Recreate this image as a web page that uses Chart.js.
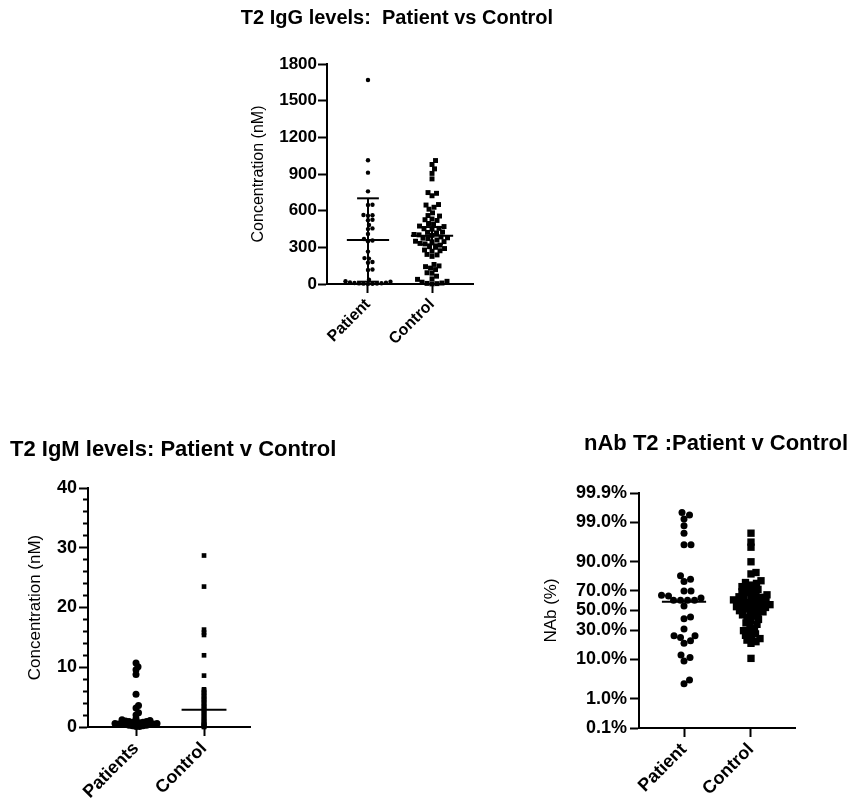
<!DOCTYPE html>
<html lang="en">
<head>
<meta charset="UTF-8">
<title>T2 antibody levels: Patient vs Control</title>
<script src="https://cdn.jsdelivr.net/npm/chart.js"></script>
<style>
  body { margin: 0; background: #fff; }
  #wrap { position: relative; width: 848px; height: 801px; }
  canvas { position: absolute; }
</style>
</head>
<body>
<div id="wrap">
  <canvas id="iggChart" width="600" height="370" style="left:0;top:0"></canvas>
  <canvas id="igmChart" width="440" height="381" style="left:0;top:420px"></canvas>
  <canvas id="nabChart" width="408" height="381" style="left:440px;top:420px"></canvas>
</div>
<script>
// T2 IgG (nM)
const iggGroups = ['Patient', 'Control'];
const iggPatient = [1669, 1012, 911, 758, 649, 646, 565, 562, 558, 526, 522, 483, 455, 449, 409, 368, 356, 350,
  265, 212, 208, 180, 174, 119, 114, 35, 22, 18, 12, 10, 8, 6, 5, 4, 3, 2, 1];
const iggControl = [1010, 978, 942, 905, 860, 748, 742, 722, 650, 646, 628, 612, 582, 560, 556, 532, 526, 520,
  495, 488, 474, 470, 455, 452, 448, 425, 422, 418, 405, 402, 398, 385, 378, 375, 372, 360, 350, 347, 345, 332,
  328, 318, 305, 300, 290, 278, 272, 268, 242, 238, 226, 160, 148, 142, 130, 118, 92, 88, 64, 42, 38, 22, 15, 8, 5, 3, 1];
const iggMean = [360, 395];
const iggSd = [341, 71];

// T2 IgM (nM)
const igmGroups = ['Patients', 'Control'];
const igmPatient = [10.7, 10.1, 9.6, 8.8, 5.5, 3.6, 3.2, 2.4, 2.0, 1.4, 1.2, 1.1, 1.0, 0.9, 0.9, 0.8, 0.8, 0.7,
  0.7, 0.6, 0.6, 0.5, 0.5, 0.5, 0.4, 0.4, 0.3, 0.3, 0.2, 0.2, 0.1, 0.1];
const igmControl = [28.7, 23.5, 16.3, 15.8, 15.4, 12.0, 8.6, 6.3, 6.1, 5.8, 5.6, 5.3, 5.1, 4.8, 4.6, 4.4, 4.1, 3.9,
  3.6, 3.4, 3.2, 2.9, 2.7, 2.5, 2.2, 2.0, 1.8, 1.5, 1.3, 1.1, 0.9, 0.7, 0.5, 0.4, 0.3, 0.2, 0.1, 0.0];
const igmControlMean = 2.9;

// nAb T2 (%)
const nabGroups = ['Patient', 'Control'];
const nabPatient = [99.5, 99.4, 99.2, 98.7, 97.9, 95.8, 95.8, 81.9, 79.5, 77.7, 69.5, 69.5, 65.5, 64.8, 63.0,
  60.5, 60.5, 60.5, 60.5, 54.6, 43.3, 41.3, 31.3, 25.4, 25.4, 23.9, 21.3, 19.5, 12.1, 10.8, 9.2, 3.4, 2.7];
const nabControl = [97.9, 96.4, 95.2, 90.0, 84.1, 83.2, 78.3, 76.9, 76.2, 74.8, 73.5, 72.9, 71.1, 70.4, 68.8,
  68.1, 66.7, 66.0, 65.2, 64.1, 63.6, 62.4, 61.8, 61.0, 60.3, 59.7, 58.9, 58.2, 57.4, 56.9, 56.1, 55.3, 54.8,
  54.0, 53.2, 52.5, 51.7, 50.9, 49.8, 48.6, 47.9, 46.5, 45.4, 44.1, 42.8, 40.7, 39.5, 37.2, 35.8, 33.9, 31.6,
  29.8, 28.4, 26.9, 25.7, 24.1, 23.0, 21.8, 20.6, 19.4, 10.4];
const nabPatientMean = 59;
const nabTicks = [0.1, 1, 10, 30, 50, 70, 90, 99, 99.9];

Chart.defaults.font.family = "'Liberation Sans', Arial, sans-serif";
Chart.defaults.color = '#000';
Chart.defaults.animation = false;

// inverse normal CDF (Acklam), used by the probability axis
function probit(p) {
  const a = [-39.69683028665376, 220.9460984245205, -275.9285104469687, 138.3577518672690, -30.66479806614716, 2.506628277459239];
  const b = [-54.47609879822406, 161.5858368580409, -155.6989798598866, 66.80131188771972, -13.28068155288572];
  const c = [-0.007784894002430293, -0.3223964580411365, -2.400758277161838, -2.549732539343734, 4.374664141464968, 2.938163982698783];
  const d = [0.007784695709041462, 0.3224671290700398, 2.445134137142996, 3.754408661907416];
  const tail = q => (((((c[0]*q + c[1])*q + c[2])*q + c[3])*q + c[4])*q + c[5]) / ((((d[0]*q + d[1])*q + d[2])*q + d[3])*q + 1);
  if (p < 0.02425) return tail(Math.sqrt(-2 * Math.log(p)));
  if (p > 0.97575) return -tail(Math.sqrt(-2 * Math.log(1 - p)));
  const q = p - 0.5, r = q * q;
  return (((((a[0]*r + a[1])*r + a[2])*r + a[3])*r + a[4])*r + a[5]) * q /
         (((((b[0]*r + b[1])*r + b[2])*r + b[3])*r + b[4])*r + 1);
}

class ProbitScale extends Chart.Scale {
  determineDataLimits() { this.min = this.options.min; this.max = this.options.max; }
  buildTicks() { return this.options.tickValues.map(value => ({value})); }
  getLabelForValue(v) { return v + '%'; }
  getPixelForValue(v) {
    const z0 = probit(this.min / 100), z1 = probit(this.max / 100);
    return this.getPixelForDecimal((probit(v / 100) - z0) / (z1 - z0));
  }
  getValueForPixel(px) {
    let lo = this.min, hi = this.max;
    for (let i = 0; i < 40; i++) {
      const mid = (lo + hi) / 2;
      if ((this.getPixelForValue(mid) > px) !== this._reversePixels) lo = mid; else hi = mid;
    }
    return (lo + hi) / 2;
  }
  getBasePixel() { return this.getPixelForValue(this.min); }
}
ProbitScale.id = 'probit';
ProbitScale.defaults = {};
Chart.register(ProbitScale);

function dots(values, group, shape, radius, spacing) {
  return {
    values: values, group: group, swarm: spacing,
    data: values.map(v => ({x: group, y: v})),
    pointStyle: shape, pointRadius: radius, pointBorderWidth: 0,
    backgroundColor: '#000', borderColor: '#000',
    clip: false, order: 2
  };
}

function segment(x1, y1, x2, y2) {
  return {
    data: [{x: x1, y: y1}, {x: x2, y: y2}],
    showLine: true, borderColor: '#000', borderWidth: 2, pointRadius: 0,
    clip: false, order: 1
  };
}

// mean line plus SD bar with caps
function meanSd(group, mean, sd, axisMin) {
  const lo = Math.max(mean - sd, axisMin), hi = mean + sd;
  const sets = [segment(group - 0.33, mean, group + 0.33, mean), segment(group, lo, group, hi),
    segment(group - 0.17, hi, group + 0.17, hi)];
  if (mean - sd > axisMin) sets.push(segment(group - 0.17, lo, group + 0.17, lo));
  return sets;
}

// spread points sideways so they don't pile up (pixel space)
function swarmOffsets(py, minD) {
  const order = py.map((p, i) => i).sort((a, b) => py[b] - py[a]);
  const placed = [];
  const out = [];
  order.forEach(i => {
    let dx = 0;
    for (let s = 0; s < 400; s++) {
      const cand = s === 0 ? 0 : (s % 2 ? 1 : -1) * Math.ceil(s / 2) * 0.5;
      if (placed.every(p => Math.hypot(p.x - cand, p.y - py[i]) >= minD)) { dx = cand; break; }
    }
    placed.push({x: dx, y: py[i]});
    out[i] = dx;
  });
  return out;
}

function applySwarm(chart) {
  const xs = chart.scales.x, ys = chart.scales.y;
  const unit = xs.getPixelForValue(2) - xs.getPixelForValue(1);
  chart.data.datasets.forEach(ds => {
    if (!ds.swarm) return;
    const off = swarmOffsets(ds.values.map(v => ys.getPixelForValue(v)), ds.swarm);
    ds.data = ds.values.map((v, i) => ({x: ds.group + off[i] / unit, y: v}));
  });
  chart.update('none');
}

function groupAxis(groups, min, max, fontSize, height) {
  return {
    type: 'linear', min: min, max: max,
    afterBuildTicks: s => { s.ticks = groups.map((g, i) => ({value: i + 1})); },
    ticks: {
      callback: (v, i) => groups[i], autoSkip: false, minRotation: 45, maxRotation: 45,
      font: {size: fontSize, weight: 'bold'}, padding: 2
    },
    grid: {drawOnChartArea: false, tickLength: 9, tickWidth: 2, tickColor: '#000'},
    border: {width: 2, color: '#000'},
    afterFit: s => { s.height = height; }
  };
}

// invisible right-hand box, keeps the title centred where the plot sits
function spacer(width) {
  return {
    type: 'linear', position: 'right',
    grid: {display: false}, border: {display: false}, ticks: {display: false},
    afterFit: s => { s.width = width; }
  };
}

const common = {
  responsive: false,
  plugins: {legend: {display: false}, tooltip: {enabled: false}}
};

// --- IgG ---
const igg = new Chart(document.getElementById('iggChart'), {
  type: 'scatter',
  data: {
    datasets: [
      ...meanSd(1, iggMean[0], iggSd[0], 0),
      ...meanSd(2, iggMean[1], iggSd[1], 0),
      dots(iggPatient, 1, 'circle', 2.2, 4.2),
      dots(iggControl, 2, 'rect', 3.5, 5)
    ]
  },
  options: {
    ...common,
    layout: {padding: {left: 194}},
    plugins: {
      ...common.plugins,
      title: {display: true, text: 'T2 IgG levels:  Patient vs Control', font: {size: 20, weight: 'bold'},
        padding: {top: 6, bottom: 34}}
    },
    scales: {
      x: groupAxis(iggGroups, 0.36, 2.64, 16, 86),
      y: {
        min: 0, max: 1800,
        ticks: {stepSize: 300, autoSkip: false, callback: v => String(v), font: {size: 17, weight: 'bold'}, padding: 1},
        grid: {drawOnChartArea: false, tickLength: 9, tickWidth: 2, tickColor: '#000'},
        border: {width: 2, color: '#000'},
        title: {display: true, text: 'Concentration (nM)', font: {size: 16}, padding: {top: 55, bottom: 0}},
        afterFit: s => { s.width = 133; }
      },
      pad: spacer(127)
    }
  }
});
applySwarm(igg);

// --- IgM ---
const igm = new Chart(document.getElementById('igmChart'), {
  type: 'scatter',
  data: {
    datasets: [
      segment(2 - 0.33, igmControlMean, 2 + 0.33, igmControlMean),
      dots(igmPatient, 1, 'circle', 3.5, 3.4),
      dots(igmControl, 2, 'rect', 3.3, 0)
    ]
  },
  options: {
    ...common,
    layout: {padding: {left: 10}},
    plugins: {
      ...common.plugins,
      title: {display: true, text: 'T2 IgM levels: Patient v Control', align: 'start',
        font: {size: 22, weight: 'bold'}, padding: {top: 16.8, bottom: 24.8}}
    },
    scales: {
      x: groupAxis(igmGroups, 0.294, 2.676, 18, 74),
      y: {
        min: 0, max: 40,
        ticks: {
          stepSize: 2, autoSkip: false, callback: v => Math.round(v) % 10 === 0 ? String(v) : '',
          font: {size: 18, weight: 'bold'}, padding: 2
        },
        grid: {
          drawOnChartArea: false, tickLength: 9, tickWidth: 2, tickColor: '#000',
          // minor ticks: half length, next to the axis
          tickBorderDash: ctx => Math.round(ctx.tick.value) % 10 === 0 ? [] : [0, 4, 5, 40]
        },
        border: {width: 2, color: '#000'},
        title: {display: true, text: 'Concentration (nM)', font: {size: 17}, padding: {top: 14.8, bottom: 0}},
        afterFit: s => { s.width = 78; }
      },
      pad: spacer(190)
    }
  }
});
applySwarm(igm);

// --- nAb ---
const nab = new Chart(document.getElementById('nabChart'), {
  type: 'scatter',
  data: {
    datasets: [
      segment(1 - 0.33, nabPatientMean, 1 + 0.33, nabPatientMean),
      dots(nabPatient, 1, 'circle', 3.5, 6.6),
      dots(nabControl, 2, 'rect', 5.2, 5)
    ]
  },
  options: {
    ...common,
    plugins: {
      ...common.plugins,
      title: {display: true, text: 'nAb T2 :Patient v Control', align: 'end',
        font: {size: 22, weight: 'bold'}, padding: {top: 10.8, bottom: 35.8}}
    },
    scales: {
      x: groupAxis(nabGroups, 0.328, 2.657, 18, 73),
      y: {
        type: 'probit', min: 0.1, max: 99.9, tickValues: nabTicks,
        ticks: {callback: v => v.toFixed(1) + '%', autoSkip: false, font: {size: 18, weight: 'bold'}, padding: 3},
        grid: {drawOnChartArea: false, tickLength: 9, tickWidth: 2, tickColor: '#000'},
        border: {width: 2, color: '#000'},
        title: {display: true, text: 'NAb (%)', font: {size: 17}, padding: {top: 100.8, bottom: 0}},
        afterFit: s => { s.width = 199; }
      },
      pad: spacer(53)
    }
  }
});
applySwarm(nab);
</script>
</body>
</html>
